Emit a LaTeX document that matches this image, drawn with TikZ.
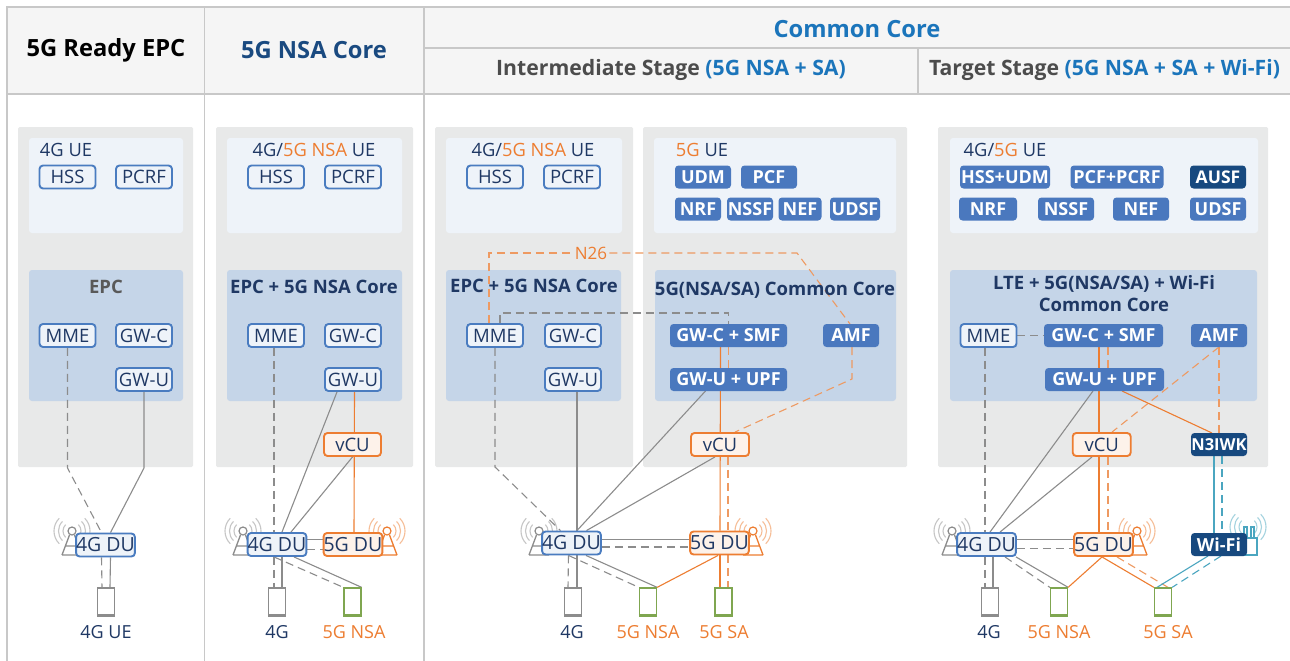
\documentclass[tikz,border=0pt]{standalone}
\usepackage{fontspec}
\setmainfont{Open Sans}
\pgfdeclarelayer{bg}
\pgfsetlayers{bg,main}
\definecolor{navy}{HTML}{1F3864}
\definecolor{bluel}{HTML}{4A7CC0}
\definecolor{solidb}{HTML}{4A78BE}
\definecolor{darkb}{HTML}{17497F}
\definecolor{org}{HTML}{ED7D31}
\definecolor{orgl}{HTML}{EE9A62}
\definecolor{panelg}{HTML}{E8E9E9}
\definecolor{panell}{HTML}{EEF3F9}
\definecolor{panelb}{HTML}{C5D5E8}
\definecolor{grayl}{HTML}{8C8C8C}
\definecolor{greenp}{HTML}{7FA650}
\definecolor{teal2}{HTML}{4BA6C0}
\definecolor{frame}{HTML}{C8C8C8}
\definecolor{head}{HTML}{F5F5F5}
\definecolor{nsab}{HTML}{1A4A80}
\definecolor{ccb}{HTML}{1B75BB}
\tikzset{
 x=1pt,y=-1pt,
 box/.style={rounded corners=3.5pt,minimum height=23pt,inner sep=0pt,line width=1.9pt,font=\fontsize{18.5}{20}\selectfont},
 nb/.style={box,draw=bluel,fill=panell,text=navy,minimum width=56pt},
 ns/.style={box,fill=solidb,text=white,minimum width=56pt,line width=0pt,font=\fontsize{18}{20}\selectfont\bfseries},
 nd/.style={box,fill=darkb,text=white,minimum width=56pt,line width=0pt,font=\fontsize{17.5}{20}\selectfont\bfseries},
 no/.style={box,draw=org,fill=org!10,text=navy,minimum width=57pt},
 dub/.style={nb,font=\fontsize{19.5}{20}\selectfont,minimum width=57pt},
 duo/.style={no,font=\fontsize{19.5}{20}\selectfont,minimum width=57pt},
 phone/.style={draw=#1,line width=1.3pt,fill=white,minimum width=17pt,minimum height=28pt,inner sep=0pt},
 hdr/.style={inner sep=0pt,font=\fontsize{23.7}{26}\selectfont\bfseries},
 hdrs/.style={inner sep=0pt,font=\fontsize{21.2}{24}\selectfont\bfseries},
 ttl/.style={inner sep=0pt,text=navy,font=\fontsize{18.5}{22}\selectfont\bfseries,align=center},
 ue/.style={inner sep=0pt,text=navy,font=\fontsize{18.3}{20}\selectfont},
 lab/.style={inner sep=0pt,font=\fontsize{18}{20}\selectfont},
 gs/.style={draw=grayl,line width=1.1pt},
 gd/.style={draw=grayl,line width=1.1pt,dash pattern=on 8pt off 5pt},
 os/.style={draw=org,line width=1.1pt},
 od/.style={draw=orgl,line width=1.1pt,dash pattern=on 8pt off 5pt},
 ts/.style={draw=teal2,line width=1.1pt},
 td/.style={draw=teal2,line width=1.1pt,dash pattern=on 8pt off 5pt},
}
\newcommand{\waves}[3]{%
 \foreach \r in {9,13.5,18}{%
  \draw[#3!50,line width=1.1pt] (#1,#2) ++(135:\r pt) arc (135:225:\r pt);
  \draw[#3!50,line width=1.1pt] (#1,#2) ++(-45:\r pt) arc (-45:45:\r pt);
 }}
\newcommand{\tower}[2]{%
 \waves{#1}{531}{#2}
 \draw[#2,line width=1.3pt] (#1-10,555)--(#1+10,555) (#1-10,555)--(#1-2.5,535) (#1+10,555)--(#1+2.5,535) (#1-6,546)--(#1+6,546);
 \draw[#2,line width=1.2pt,fill=white] (#1,531) circle (4pt);
}
\begin{document}
\begin{tikzpicture}
\useasboundingbox (0,0) rectangle (1290,661);
\begin{pgfonlayer}{bg}
\fill[white] (0,0) rectangle (1290,661);
\fill[head] (7,7) rectangle (1290,94);
\draw[frame,line width=1.5pt] (7,661)--(7,7)--(1290,7);
\draw[frame,line width=1.5pt] (7,94)--(1290,94);
\draw[frame,line width=1.2pt] (204.5,7)--(204.5,661) (424,7)--(424,661) (918,48)--(918,94) (424,48)--(1290,48);
\foreach \a/\b in {18/193,216/413,435/633,643/907,938/1268}
  \fill[panelg,rounded corners=1.5pt] (\a,127) rectangle (\b,467);
\foreach \a/\b in {29/183,227/402,446/622,654/896,950/1258}
  \fill[panell,rounded corners=3pt] (\a,138) rectangle (\b,233);
\foreach \a/\b in {29/183,227/402,446/621,655/896,950/1257}
  \fill[panelb,rounded corners=3pt] (\a,270) rectangle (\b,401);
\tower{72}{grayl}
\tower{243}{grayl}
\tower{387}{org}
\tower{539}{grayl}
\tower{753}{org}
\tower{952}{grayl}
\tower{1137}{org}
\waves{1248}{527}{teal2}
\draw[teal2,line width=1.2pt,fill=white] (1243,538) rectangle (1257,555);
\draw[teal2,line width=1.2pt] (1244,538)--(1244,527)--(1247,527)--(1247,538) (1251,538)--(1251,527)--(1254,527)--(1254,538);
\end{pgfonlayer}

% headers
\node[hdr,text=black] (h1) at (106,50) {5G Ready EPC};
\node[hdr,text=nsab] (h2) at (314,50) {5G NSA Core};
\node[hdr,text=ccb] (h3) at (857,29) {Common Core};
\node[hdrs,text=black!70] (h4) at (671,70) {Intermediate Stage \textcolor{ccb}{(5G NSA + SA)}};
\node[hdrs,text=black!70] (h5) at (1104.5,70) {Target Stage \textcolor{ccb}{(5G NSA + SA + Wi-Fi)}};

% panel titles
\node[ue] (u1) at (66,150) {4G UE};
\node[ue] (u2) at (314,150) {4G/\textcolor{org}{5G NSA} UE};
\node[ue] (u3) at (533,150) {4G/\textcolor{org}{5G NSA} UE};
\node[ue] (u4) at (702,150) {\textcolor{org}{5G} UE};
\node[ue] (u5) at (1005,150) {4G/\textcolor{org}{5G} UE};
\node[ttl,text=black!65] (t1) at (106,287) {EPC};
\node[ttl] (t2) at (314,287) {EPC + 5G NSA Core};
\node[ttl] (t3) at (534,286) {EPC + 5G NSA Core};
\node[ttl] (t4) at (775,290) {5G(NSA/SA) Common Core};
\node[ttl] (t5) at (1104,294) {LTE + 5G(NSA/SA) + Wi-Fi\\Common Core};

% upper boxes
\node[nb] (hss1) at (67.5,177) {HSS};
\node[nb] (pcrf1) at (144,177) {PCRF};
\node[nb] (hss2) at (276,177) {HSS};
\node[nb] (pcrf2) at (353,177) {PCRF};
\node[nb] (hss3) at (495,177) {HSS};
\node[nb] (pcrf3) at (572,177) {PCRF};
\node[ns] (udm4) at (703,177) {UDM};
\node[ns] (pcf4) at (769,177) {PCF};
\node[ns,minimum width=46pt] (nrf4) at (698,209) {NRF};
\node[ns,minimum width=46pt] (nssf4) at (750,209) {NSSF};
\node[ns,minimum width=43pt] (nef4) at (800,209) {NEF};
\node[ns,minimum width=50pt] (udsf4) at (855,209) {UDSF};
\node[ns,minimum width=90pt] (hu5) at (1005,177) {HSS+UDM};
\node[ns,minimum width=93pt] (pp5) at (1117,177) {PCF+PCRF};
\node[nd] (ausf5) at (1218,177) {AUSF};
\node[ns,minimum width=58pt] (nrf5) at (988,209) {NRF};
\node[ns] (nssf5) at (1066,209) {NSSF};
\node[ns] (nef5) at (1141,209) {NEF};
\node[ns] (udsf5) at (1218,209) {UDSF};

% core boxes
\node[nb] (mme1) at (67.5,335.5) {MME};
\node[nb] (gwc1) at (144,335.5) {GW-C};
\node[nb] (gwu1) at (144,379.5) {GW-U};
\node[nb] (mme2) at (276,335.5) {MME};
\node[nb] (gwc2) at (353,335.5) {GW-C};
\node[nb] (gwu2) at (353,379.5) {GW-U};
\node[nb] (mme3) at (495,335.5) {MME};
\node[nb] (gwc3) at (573,335.5) {GW-C};
\node[nb] (gwu3) at (573,379.5) {GW-U};
\node[ns,minimum width=117pt] (smf4) at (728.5,335.5) {GW-C + SMF};
\node[ns] (amf4) at (851,335.5) {AMF};
\node[ns,minimum width=117pt] (upf4) at (728.5,379.5) {GW-U + UPF};
\node[nb] (mme5) at (988.5,335.5) {MME};
\node[ns,minimum width=119pt] (smf5) at (1103.5,335.5) {GW-C + SMF};
\node[ns] (amf5) at (1219,335.5) {AMF};
\node[ns,minimum width=119pt] (upf5) at (1104.5,379.5) {GW-U + UPF};

\node[no] (vcu2) at (352.5,444.5) {vCU};
\node[no,minimum width=58pt] (vcu4) at (720,444.5) {vCU};
\node[no,minimum width=58pt] (vcu5) at (1101.7,444.5) {vCU};
\node[nd,font=\fontsize{16.5}{18}\selectfont\bfseries] (n3) at (1219,444.5) {N3IWK};

% DU
\node[dub] (du1) at (105.5,545) {4G DU};
\node[dub] (du2) at (277,544.5) {4G DU};
\node[duo] (du2b) at (353,544.5) {5G DU};
\node[dub] (du3) at (571.5,543) {4G DU};
\node[duo] (du3b) at (719.5,543) {5G DU};
\node[dub] (du5) at (986.5,544.5) {4G DU};
\node[duo] (du5b) at (1103.5,544.5) {5G DU};
\node[nd,font=\fontsize{18}{20}\selectfont\bfseries] (wifi) at (1219,544.5) {Wi-Fi};

% phones
\foreach \n/\x/\c in {ph1/106/grayl,ph2/277/grayl,ph2b/352.5/greenp,ph3/573/grayl,ph3b/648/greenp,ph3c/723.5/greenp,ph5/990/grayl,ph5b/1059/greenp,ph5c/1163/greenp}{
  \node[phone=\c] (\n) at (\x,602) {};
  \draw[\c,line width=2.5pt] ([yshift=1pt]\n.south west)--([yshift=1pt]\n.south east);
}
\node[lab,text=navy] (l1) at (106,632) {4G UE};
\node[lab,text=navy] (l2) at (277,632) {4G};
\node[lab,text=org] (l2b) at (354,632) {5G NSA};
\node[lab,text=navy] (l3) at (572,632) {4G};
\node[lab,text=org] (l3b) at (648,632) {5G NSA};
\node[lab,text=org] (l3c) at (724,632) {5G SA};
\node[lab,text=navy] (l5) at (989,632) {4G};
\node[lab,text=org] (l5b) at (1059,632) {5G NSA};
\node[lab,text=org] (l5c) at (1168,632) {5G SA};

\node[inner sep=2pt,fill=panelg,text=org,font=\fontsize{17}{18}\selectfont] (n26) at (591,253) {N26};

\coordinate (b1a) at (67.5,468);
\coordinate (b1b) at (144,468);
\coordinate (b3a) at (489,253);
\coordinate (b3b) at (797,253);
\coordinate (b3c) at (500,313);
\coordinate (b3d) at (728.5,313);
\coordinate (b3e) at (495,467);
\coordinate (b3f) at (852,379);

\begin{pgfonlayer}{bg}
% panel 1
\draw[gd] (mme1.south)--(b1a)--([xshift=-4pt]du1.north);
\draw[gs] (gwu1.south)--(b1b)--([xshift=5pt]du1.north);
\draw[gd] ([xshift=-4pt]du1.south)--([xshift=-4pt]ph1.north);
\draw[gs] ([xshift=5pt]du1.south)--([xshift=4pt]ph1.north);
% panel 2
\draw[gd] ([xshift=-2pt]mme2.south)--([xshift=-3pt]du2.north);
\draw[gs] ([xshift=-16pt]gwu2.south)--([xshift=5pt]du2.north);
\draw[gs] (vcu2.south)--([xshift=14pt]du2.north);
\draw[os] ([xshift=1.5pt]gwu2.south)--([xshift=1pt]du2b.north);
\draw[gs] ([yshift=5pt]du2.east)--([yshift=5pt]du2b.west);
\draw[gd] ([yshift=-5pt]du2.east)--([yshift=-5pt]du2b.west);
\draw[gd] ([xshift=-3pt]du2.south)--([xshift=-3pt]ph2.north);
\draw[gs] ([xshift=5pt]du2.south)--([xshift=5pt]ph2.north);
\draw[gs] ([xshift=17pt]du2.south)--(ph2b.north east);
\draw[gd] ([xshift=-3pt]du2.south)--(ph2b.north west);
% panel 3/4
\draw[od] ([xshift=-6pt]mme3.north)--(b3a)--(n26.west);
\draw[od] (n26.east)--(b3b)--([xshift=-1pt]amf4.north);
\draw[gd] ([xshift=5pt]mme3.north)--(b3c)--(b3d)--(smf4.north);
\draw[gd] (mme3.south)--(b3e)--([xshift=-11pt]du3.north);
\draw[gs] ([xshift=4pt]gwu3.south)--([xshift=5.5pt]du3.north);
\draw[gs] ([xshift=-23pt]upf4.south)--([xshift=5.5pt]du3.north);
\draw[gs] ([xshift=-5pt]vcu4.south)--([xshift=15pt]du3.north);
\draw[os] ([xshift=-8pt]smf4.south)--([xshift=.5pt]du3b.north);
\draw[od] (smf4.south)--(upf4.north);
\draw[od] ([xshift=8pt]vcu4.south)--([xshift=8.5pt]du3b.north);
\draw[od] ([xshift=1pt]amf4.south)--(b3f)--([xshift=15pt]vcu4.north);
\draw[gs] ([yshift=3.5pt]du3.east)--([yshift=3.5pt]du3b.west);
\draw[gd] ([yshift=-4pt]du3.east)--([yshift=-4pt]du3b.west);
\draw[gd] ([xshift=-3pt]du3.south)--([xshift=-5pt]ph3.north);
\draw[gs] ([xshift=5.5pt]du3.south)--([xshift=4pt]ph3.north);
\draw[gs] ([xshift=14.5pt]du3.south)--(ph3b.north east);
\draw[gd] ([xshift=-3pt]du3.south)--(ph3b.north west);
\draw[os] ([xshift=-1.5pt]du3b.south)--(ph3b.north east);
\draw[os] ([xshift=.5pt]du3b.south)--([xshift=-3.5pt]ph3c.north);
\draw[od] ([xshift=8.5pt]du3b.south)--([xshift=4.5pt]ph3c.north);
% panel 5
\draw[gd] (mme5.east)--(smf5.west);
\draw[gd] ([xshift=-3.5pt]mme5.south)--([xshift=-1.5pt]du5.north);
\draw[gs] ([xshift=-11.5pt]upf5.south)--([xshift=3.5pt]du5.north);
\draw[gs] ([xshift=-9.7pt]vcu5.south)--([xshift=13.5pt]du5.north);
\draw[os] ([xshift=-4.5pt]smf5.south)--([xshift=-4.5pt]du5b.north);
\draw[od] ([xshift=4.5pt]smf5.south)--([xshift=3.5pt]upf5.north);
\draw[od] ([xshift=6.3pt]vcu5.south)--([xshift=4.5pt]du5b.north);
\draw[od] (amf5.south)--([xshift=10.3pt]vcu5.north);
\draw[od] (amf5.south)--(n3.north);
\draw[os] ([xshift=17.5pt]upf5.south)--([xshift=-7pt]n3.north);
\draw[ts] ([xshift=-5pt]n3.south)--([xshift=-5pt]wifi.north);
\draw[td] ([xshift=3pt]n3.south)--([xshift=3pt]wifi.north);
\draw[gs] ([yshift=5pt]du5.east)--([yshift=5pt]du5b.west);
\draw[gd] ([yshift=-4pt]du5.east)--([yshift=-4pt]du5b.west);
\draw[gd] ([xshift=-1.5pt]du5.south)--([xshift=-5pt]ph5.north);
\draw[gs] ([xshift=6.5pt]du5.south)--([xshift=3pt]ph5.north);
\draw[gs] ([xshift=29.5pt]du5.south)--(ph5b.north east);
\draw[gd] ([xshift=18.5pt]du5.south)--(ph5b.north west);
\draw[os] ([xshift=-1.5pt]du5b.south)--(ph5b.north east);
\draw[os] ([xshift=-1.5pt]du5b.south)--(ph5c.north west);
\draw[od] ([xshift=13.5pt]du5b.south)--([xshift=5pt]ph5c.north);
\draw[ts] ([xshift=-11pt]wifi.south)--([xshift=-6pt]ph5c.north);
\draw[td] ([xshift=2pt]wifi.south)--(ph5c.north east);
\end{pgfonlayer}
\end{tikzpicture}
\end{document}
